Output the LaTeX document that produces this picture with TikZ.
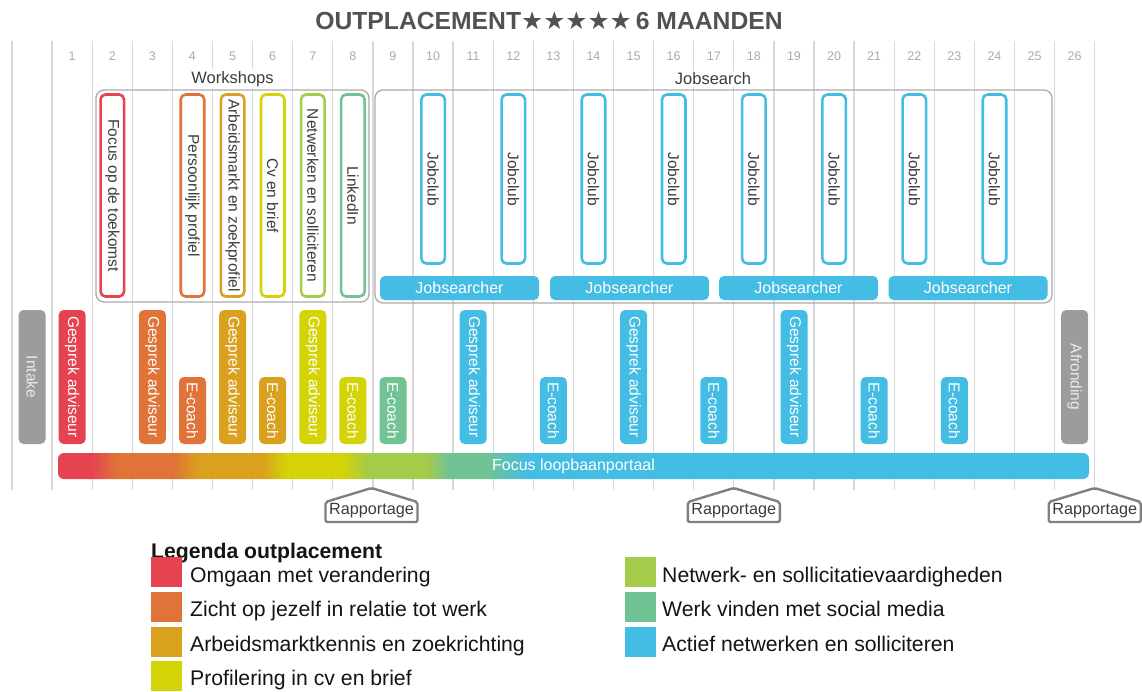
\documentclass[tikz,border=0pt]{standalone}
\usepackage{fontspec}
\setmainfont{Liberation Sans}
\newfontfamily\starfont{DejaVu Sans}
\usepackage{xcolor}
\usepackage{tikz}

\definecolor{cRed}{HTML}{E5434F}
\definecolor{cOrange}{HTML}{E07338}
\definecolor{cGold}{HTML}{DAA11E}
\definecolor{cYellow}{HTML}{D3D305}
\definecolor{cLime}{HTML}{A4CB4A}
\definecolor{cGreen}{HTML}{72C393}
\definecolor{cBlue}{HTML}{43BDE4}
\definecolor{cGray}{HTML}{9C9C9C}
\definecolor{gridgray}{HTML}{D8D8D8}
\definecolor{boxgray}{HTML}{ABABAB}
\definecolor{txtgray}{HTML}{3C3C3C}

\pgfdeclarehorizontalshading{portalshade}{100bp}{color(0bp)=(cRed); color(25bp)=(cRed); color(26.6bp)=(cRed); color(27.9bp)=(cOrange); color(30.6bp)=(cOrange); color(31.8bp)=(cGold); color(34.9bp)=(cGold); color(36.1bp)=(cYellow); color(38.8bp)=(cYellow); color(40bp)=(cLime); color(42.9bp)=(cLime); color(43.9bp)=(cGreen); color(45.8bp)=(cGreen); color(47.8bp)=(cBlue); color(75bp)=(cBlue); color(100bp)=(cBlue)}

\tikzstyle{title} = [anchor=base, text=black!68, font=\fontsize{24.7}{28}\selectfont\bfseries]
\tikzstyle{colnum} = [text=black!33, font=\fontsize{12.5}{14}\selectfont]
\tikzstyle{gridline} = [draw=gridgray, line width=1.3pt]
\tikzstyle{groupbox} = [draw=boxgray, line width=1.3pt, rounded corners=8pt, inner sep=0pt]
\tikzstyle{grouplabel} = [fill=white, text=txtgray, inner sep=2pt, font=\fontsize{16.5}{18}\selectfont]
\tikzstyle{workshop} = [draw, line width=2.6pt, rounded corners=5pt, fill=white, rotate=-90, inner sep=0pt, minimum width=202pt, minimum height=23.5pt, text=txtgray, font=\fontsize{15.5}{17}\selectfont]
\tikzstyle{jobclub} = [workshop, draw=cBlue, minimum width=169pt]
\tikzstyle{searcher} = [fill=cBlue, rounded corners=5pt, inner sep=0pt, minimum width=159pt, minimum height=24pt, text=white, font=\fontsize{16}{18}\selectfont]
\tikzstyle{session} = [rounded corners=5pt, rotate=-90, inner sep=0pt, minimum width=134pt, minimum height=27pt, text=white, font=\fontsize{15.5}{17}\selectfont]
\tikzstyle{ecoach} = [session, minimum width=67pt]
\tikzstyle{portal} = [rounded corners=6pt, shading=portalshade, inner sep=0pt, minimum width=1031pt, minimum height=26pt, text=white, font=\fontsize{16}{18}\selectfont]
\tikzstyle{house} = [draw=black!50, line width=2.4pt, fill=white, rounded corners=2pt]
\tikzstyle{raptext} = [text=txtgray, inner sep=0pt, font=\fontsize{16.2}{18}\selectfont]
\tikzstyle{swatch} = [minimum width=31pt, minimum height=30pt, inner sep=0pt]
\tikzstyle{legtext} = [anchor=base west, inner sep=0pt, text=black!92, font=\fontsize{21.2}{24}\selectfont]

\begin{document}
\begin{tikzpicture}[x=1pt, y=-1pt]
            \useasboundingbox (0,0) rectangle (1142,691);
            \fill[white] (0,0) rectangle (1142,691);

            % Title
            \node [title] (title) at (549,29) {OUTPLACEMENT{\starfont★★★★★}\kern4pt6 MAANDEN};

            % Grid and week numbers
            \foreach \k in {0,...,27}
                \draw [gridline] ({12+40.1*\k},41) -- ({12+40.1*\k},490);
            \foreach \n in {1,...,26}
                \node [colnum] (week\n) at ({32.05+40.1*\n},56) {\n};

            % Groups
            \node [groupbox, minimum width=273pt, minimum height=212pt] (workshops) at (232.5,196) {};
            \node [groupbox, minimum width=677pt, minimum height=213pt] (jobsearch) at (713.5,196.5) {};
            \node [grouplabel] (workshopslabel) at (232.5,79) {Workshops};
            \node [grouplabel] (jobsearchlabel) at (713,79) {Jobsearch};

            % Workshops
            \node [workshop, draw=cRed] (focus) at (112.3,195.5) {Focus op de toekomst};
            \node [workshop, draw=cOrange] (profiel) at (192.5,195.5) {Persoonlijk profiel};
            \node [workshop, draw=cGold] (arbeidsmarkt) at (232.6,195.5) {Arbeidsmarkt en zoekprofiel};
            \node [workshop, draw=cYellow] (cvbrief) at (272.7,195.5) {Cv en brief};
            \node [workshop, draw=cLime] (netwerken) at (312.8,195.5) {Netwerken en solliciteren};
            \node [workshop, draw=cGreen] (linkedin) at (352.9,195.5) {LinkedIn};

            % Jobclubs
            \node [jobclub] (club10) at (433.1,179) {Jobclub};
            \node [jobclub] (club12) at (513.3,179) {Jobclub};
            \node [jobclub] (club14) at (593.5,179) {Jobclub};
            \node [jobclub] (club16) at (673.7,179) {Jobclub};
            \node [jobclub] (club18) at (753.9,179) {Jobclub};
            \node [jobclub] (club20) at (834.1,179) {Jobclub};
            \node [jobclub] (club22) at (914.3,179) {Jobclub};
            \node [jobclub] (club24) at (994.5,179) {Jobclub};

            % Jobsearchers
            \node [searcher] (searcher1) at (459.5,288) {Jobsearcher};
            \node [searcher] (searcher2) at (629.5,288) {Jobsearcher};
            \node [searcher] (searcher3) at (798.5,288) {Jobsearcher};
            \node [searcher] (searcher4) at (968,288) {Jobsearcher};

            % Sessions
            \node [session, fill=cGray, text=white!92!black] (intake) at (32.1,377) {Intake};
            \node [session, fill=cRed] (gesprek1) at (72.2,377) {Gesprek adviseur};
            \node [session, fill=cOrange] (gesprek3) at (152.4,377) {Gesprek adviseur};
            \node [ecoach, fill=cOrange] (coach4) at (192.5,410.5) {E-coach};
            \node [session, fill=cGold] (gesprek5) at (232.6,377) {Gesprek adviseur};
            \node [ecoach, fill=cGold] (coach6) at (272.7,410.5) {E-coach};
            \node [session, fill=cYellow] (gesprek7) at (312.8,377) {Gesprek adviseur};
            \node [ecoach, fill=cYellow] (coach8) at (352.9,410.5) {E-coach};
            \node [ecoach, fill=cGreen] (coach9) at (393.0,410.5) {E-coach};
            \node [session, fill=cBlue] (gesprek11) at (473.2,377) {Gesprek adviseur};
            \node [ecoach, fill=cBlue] (coach13) at (553.4,410.5) {E-coach};
            \node [session, fill=cBlue] (gesprek15) at (633.6,377) {Gesprek adviseur};
            \node [ecoach, fill=cBlue] (coach17) at (713.8,410.5) {E-coach};
            \node [session, fill=cBlue] (gesprek19) at (794.0,377) {Gesprek adviseur};
            \node [ecoach, fill=cBlue] (coach21) at (874.2,410.5) {E-coach};
            \node [ecoach, fill=cBlue] (coach23) at (954.4,410.5) {E-coach};
            \node [session, fill=cGray, text=white!92!black] (afronding) at (1074.7,377) {Afronding};

            % Portal
            \node [portal] (portal) at (573.5,466) {Focus loopbaanportaal};

            % Rapportages
            \foreach \rx/\rname in {371.5/rapport1, 733.8/rapport2, 1094.7/rapport3} {
                \draw [house] (\rx-46,502) -- (\rx,488) -- (\rx+46,502) -- (\rx+46,522) -- (\rx-46,522) -- cycle;
                \node [raptext] (\rname) at (\rx,511) {Rapportage};
            }

            % Legend
            \node [legtext, font=\fontsize{21.2}{24}\selectfont\bfseries] (legendtitle) at (151,558) {Legenda outplacement};
            \node [swatch, fill=cRed] (swred) at (166.5,572) {};
            \node [swatch, fill=cOrange] (sworange) at (166.5,607) {};
            \node [swatch, fill=cGold] (swgold) at (166.5,641.5) {};
            \node [swatch, fill=cYellow] (swyellow) at (166.5,676) {};
            \node [swatch, fill=cLime] (swlime) at (640,572) {};
            \node [swatch, fill=cGreen] (swgreen) at (640,607) {};
            \node [swatch, fill=cBlue] (swblue) at (640,641.5) {};
            \node [legtext] (legred) at (190,582) {Omgaan met verandering};
            \node [legtext] (legorange) at (190,616.5) {Zicht op jezelf in relatie tot werk};
            \node [legtext] (leggold) at (190,651) {Arbeidsmarktkennis en zoekrichting};
            \node [legtext] (legyellow) at (190,685.5) {Profilering in cv en brief};
            \node [legtext] (leglime) at (662,582) {Netwerk- en sollicitatievaardigheden};
            \node [legtext] (leggreen) at (662,616.5) {Werk vinden met social media};
            \node [legtext] (legblue) at (662,651) {Actief netwerken en solliciteren};
        \end{tikzpicture}
\end{document}
